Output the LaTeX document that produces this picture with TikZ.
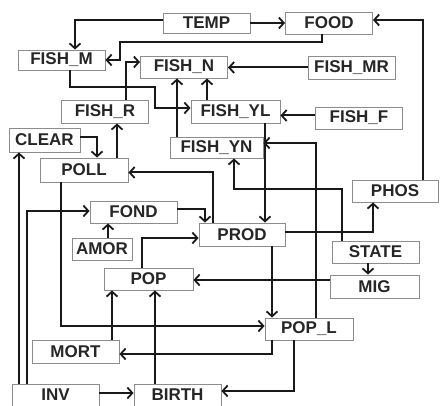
\documentclass[tikz,border=0pt]{standalone}
\usepackage{fontspec}
\setmainfont{Liberation Sans}
\usetikzlibrary{arrows.meta}
\begin{document}
\begin{tikzpicture}[x=1pt,y=-1pt,
  box/.style={draw=black!45, line width=0.9pt, minimum width=87pt, minimum height=22pt,
    inner sep=0pt, font=\fontsize{17}{17}\selectfont\bfseries, text=black!85, fill=white},
  conn/.style={line width=2pt, black!90,
    -{Straight Barb[length=5pt,width=11pt,line width=1.8pt]}}]
\useasboundingbox (0,0) rectangle (440,406);
% nodes
\node[box, minimum height=20pt] (TEMP) at (206.5,23) {TEMP};
\node[box] (FOOD) at (329,23) {FOOD};
\node[box, minimum height=20pt] (FISHM) at (61.5,60) {FISH\_M};
\node[box] (FISHN) at (184,67) {FISH\_N};
\node[box, minimum height=23pt] (FISHMR) at (351.5,67.5) {FISH\_MR};
\node[box, minimum height=23pt] (FISHR) at (105,111.5) {FISH\_R};
\node[box, minimum height=23pt, minimum width=89pt] (FISHYL) at (235.5,111.5) {FISH\_YL};
\node[box] (FISHF) at (359,118) {FISH\_F\hspace{14pt}};
\node[box, minimum height=24pt, minimum width=71pt] (CLEAR) at (44.5,140) {CLEAR};
\node[box, minimum height=24pt, minimum width=88pt] (POLL) at (84,170) {POLL};
\node[box, minimum height=21pt, minimum width=93pt] (FISHYN) at (216.5,147.5) {FISH\_YN};
\node[box, minimum width=86pt] (PHOS) at (395,191) {PHOS};
\node[box] (FOND) at (133.5,212) {FOND};
\node[box, minimum width=60pt] (AMOR) at (102,249) {AMOR};
\node[box, minimum height=23pt, minimum width=86pt] (PROD) at (242,234.5) {PROD};
\node[box] (STATE) at (375.5,252) {STATE};
\node[box, minimum width=89pt] (POP) at (148.5,279) {POP};
\node[box, minimum height=23pt, minimum width=89pt] (MIG) at (374.5,286.5) {MIG};
\node[box, minimum width=88pt] (POPL) at (309,329) {POP\_L};
\node[box, minimum height=23pt] (MORT) at (75.5,351.5) {MORT};
\node[box] (INV) at (55.5,395) {INV};
\node[box] (BIRTH) at (177.5,395) {BIRTH};
% connectors
\draw[conn] ([yshift=3pt]TEMP.west) -| ([xshift=13.5pt]FISHM.north);
\draw[conn] (TEMP.east) -- (FOOD.west);
\draw[conn] ([xshift=-7pt]FOOD.south) |- (120,42) |- (FISHM.east);
\draw[conn] (FISHMR.west) -- ([yshift=-0.5pt]FISHN.east);
\draw[conn] ([xshift=8.5pt]FISHM.south) |- (155,87) |- ([yshift=3.5pt]FISHYL.west);
\draw[conn] ([xshift=21pt]FISHR.north) |- ([yshift=5pt]FISHN.west);
\draw[conn] ([xshift=-39.5pt]FISHYN.north) -- ([xshift=-7pt]FISHN.south);
\draw[conn] ([xshift=-28.5pt]FISHYL.north) -- ([xshift=23pt]FISHN.south);
\draw[conn] ([yshift=2.5pt]FISHF.west) -- ([yshift=-4pt]FISHYL.east);
\draw[conn] ([xshift=33pt]POLL.north) -- ([xshift=12pt]FISHR.south);
\draw[conn] ([yshift=3pt]CLEAR.east) -| ([xshift=13pt]POLL.north);
\draw[conn] ([xshift=29.5pt]FISHYL.south) -- ([xshift=23pt]PROD.north);
\draw[conn] ([xshift=7pt]POPL.north) |- ([yshift=4.5pt]FISHYN.east);
\draw[conn] ([xshift=-33.5pt]STATE.north) |- (234,189) -- ([xshift=17.5pt]FISHYN.south);
\draw[conn] ([xshift=-29pt]PROD.north) |- ([yshift=-2.5pt]POLL.east);
\draw[conn] ([yshift=3pt]FOND.east) -| ([xshift=-37pt]PROD.north);
\draw[conn] ([xshift=-6.5pt]POP.north) |- ([yshift=-3.5pt]PROD.west);
\draw[conn] ([xshift=6pt]AMOR.north) -- ([xshift=-25.5pt]FOND.south);
\draw[conn] ([xshift=-28.5pt]INV.north) |- ([yshift=1pt]FOND.west);
\draw[conn] ([xshift=-36.5pt]INV.north) -- ([xshift=-25.5pt]CLEAR.south);
\draw[conn] ([xshift=-23pt]POLL.south) |- ([yshift=3pt]POPL.west);
\draw[conn] ([xshift=30pt]PROD.south) -- ([xshift=-37pt]POPL.north);
\draw[conn] ([yshift=2.5pt]PROD.east) -| ([xshift=-22pt]PHOS.south);
\draw[conn] ([xshift=28pt]PHOS.north) |- ([yshift=3pt]FOOD.east);
\draw[conn] ([xshift=-7.5pt]STATE.south) -- ([xshift=-6.5pt]MIG.north);
\draw[conn] ([yshift=6.5pt]MIG.west) -- ([yshift=-1pt]POP.east);
\draw[conn] ([xshift=-37pt]POPL.south) |- ([yshift=-2.5pt]MORT.east);
\draw[conn] ([xshift=-15pt]POPL.south) |- ([yshift=4pt]BIRTH.east);
\draw[conn] ([xshift=36.5pt]MORT.north) -- ([xshift=-36.5pt]POP.south);
\draw[conn] ([xshift=-22.5pt]BIRTH.north) -- ([xshift=6.5pt]POP.south);
\draw[conn] ([yshift=2pt]INV.east) -- ([yshift=2pt]BIRTH.west);
\end{tikzpicture}
\end{document}
